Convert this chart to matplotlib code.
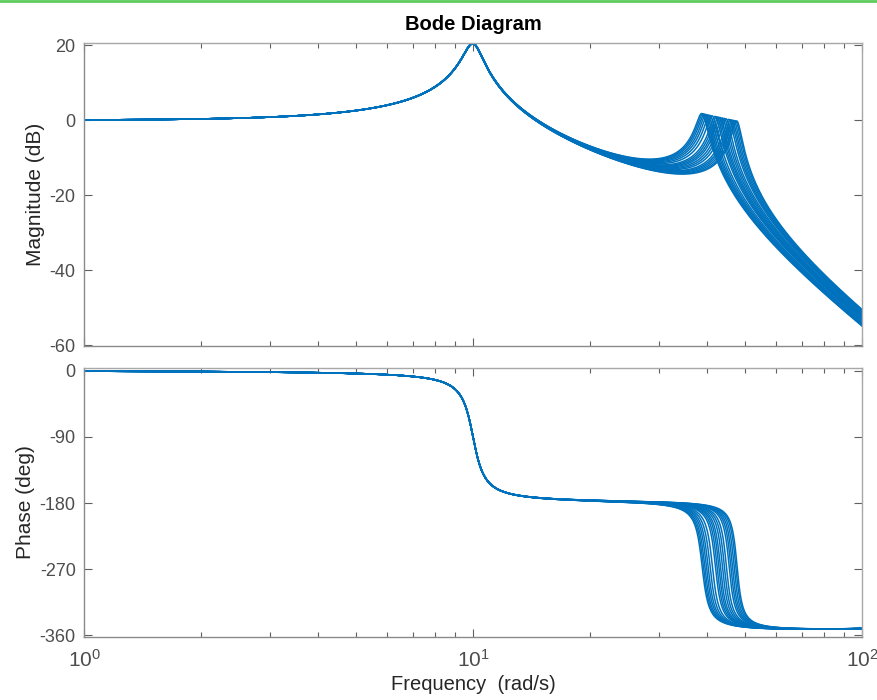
import numpy as np
import matplotlib
matplotlib.use("Agg")
import matplotlib.pyplot as plt
from matplotlib.lines import Line2D
from matplotlib.ticker import FixedLocator, LogLocator, NullFormatter, FixedFormatter

plt.rcParams['font.family'] = ['Liberation Sans', 'DejaVu Sans']
plt.rcParams['mathtext.fontset'] = 'custom'
plt.rcParams['mathtext.rm'] = 'Liberation Sans'
plt.rcParams['mathtext.it'] = 'Liberation Sans:italic'

# First (fixed) resonant mode
wn1 = 10.0
zeta1 = 0.05
# Second resonant mode: sampled natural frequencies (rad/s)
wn2 = [38.80, 39.09, 39.41, 39.79, 40.19, 40.67, 41.23, 41.97, 42.39, 42.82,
       43.23, 43.75, 44.26, 44.80, 45.52, 45.98, 46.42, 46.88, 47.35, 47.72]
# Damping coefficient of the second mode (2*zeta*wn)
c2 = 2.25
# High-frequency zero (rad/s)
wz = 800.0

mag_ticks = [20, 0, -20, -40, -60]
phase_ticks = [0, -90, -180, -270, -360]
freq_ticks = [1, 10, 100]
freq_labels = [r'$\mathregular{10^{0}}$', r'$\mathregular{10^{1}}$', r'$\mathregular{10^{2}}$']

line_color = '#0072BD'
label_color = '#4d4d4d'

w = np.logspace(0, 2, 3000)


def mode_response(w, wn, zeta):
    s = 1j * w
    return wn**2 / (s**2 + 2 * zeta * wn * s + wn**2)


def mode_phase(w, wn, zeta):
    r = w / wn
    return -np.degrees(np.arctan2(2 * zeta * r, 1 - r**2))


fig = plt.figure(figsize=(8.78, 7.0), dpi=100)
ax_m = fig.add_axes([0.0957, 0.5057, 0.8861, 0.4322])
ax_p = fig.add_axes([0.0957, 0.0907, 0.8861, 0.3836])

zero = 1 + 1j * w / wz
for wn in wn2:
    z2 = c2 / (2 * wn)
    H = zero * mode_response(w, wn1, zeta1) * mode_response(w, wn, z2)
    mag = 20 * np.log10(np.abs(H))
    ph = (np.degrees(np.angle(zero)) + mode_phase(w, wn1, zeta1)
          + mode_phase(w, wn, z2))
    ax_m.semilogx(w, mag, color=line_color, lw=1.1)
    ax_p.semilogx(w, ph, color=line_color, lw=1.1)

for ax in (ax_m, ax_p):
    ax.set_xscale('log')
    ax.set_xlim(1, 100)
    ax.xaxis.set_major_locator(FixedLocator(freq_ticks))
    ax.xaxis.set_minor_locator(LogLocator(base=10, subs=np.arange(2, 10)))
    ax.xaxis.set_minor_formatter(NullFormatter())
    ax.tick_params(which='both', direction='in', top=True, right=True,
                   colors='#606060', labelcolor=label_color, labelsize=13)
    ax.tick_params(which='major', length=6, width=0.8)
    ax.tick_params(which='minor', length=3.5, width=0.8)
    ax.tick_params(axis='y', which='major', pad=6)
    for side in ('left', 'bottom'):
        ax.spines[side].set_color('#8a8a8a')
    for side in ('top', 'right'):
        ax.spines[side].set_color('#a8a8a8')
    for sp in ax.spines.values():
        sp.set_linewidth(1.0)

ax_m.set_ylim(-60.2, 20.5)
ax_m.set_yticks(mag_ticks)
ax_m.set_yticklabels([str(t) for t in mag_ticks])
ax_m.xaxis.set_major_formatter(NullFormatter())
ax_m.set_ylabel('Magnitude (dB)', fontsize=15, color='#262626', labelpad=3)
ax_m.set_title('Bode Diagram', fontsize=14.5, fontweight='bold', color='black', pad=10)

ax_p.set_ylim(-361.5, 3.7)
ax_p.set_yticks(phase_ticks)
ax_p.set_yticklabels([str(t) for t in phase_ticks])
ax_p.xaxis.set_major_formatter(FixedFormatter(freq_labels))
ax_p.tick_params(axis='x', which='major', labelsize=15, pad=9)
ax_p.set_ylabel('Phase (deg)', fontsize=15, color='#262626', labelpad=3)
ax_p.set_xlabel('Frequency  (rad/s)', fontsize=14.5, color='#262626', labelpad=3)

# thin green border line along the top edge
fig.add_artist(Line2D([0, 1], [0.999, 0.999], transform=fig.transFigure,
                      color='#5ccc5c', lw=2.0))

fig.savefig('out.png', dpi=100)
